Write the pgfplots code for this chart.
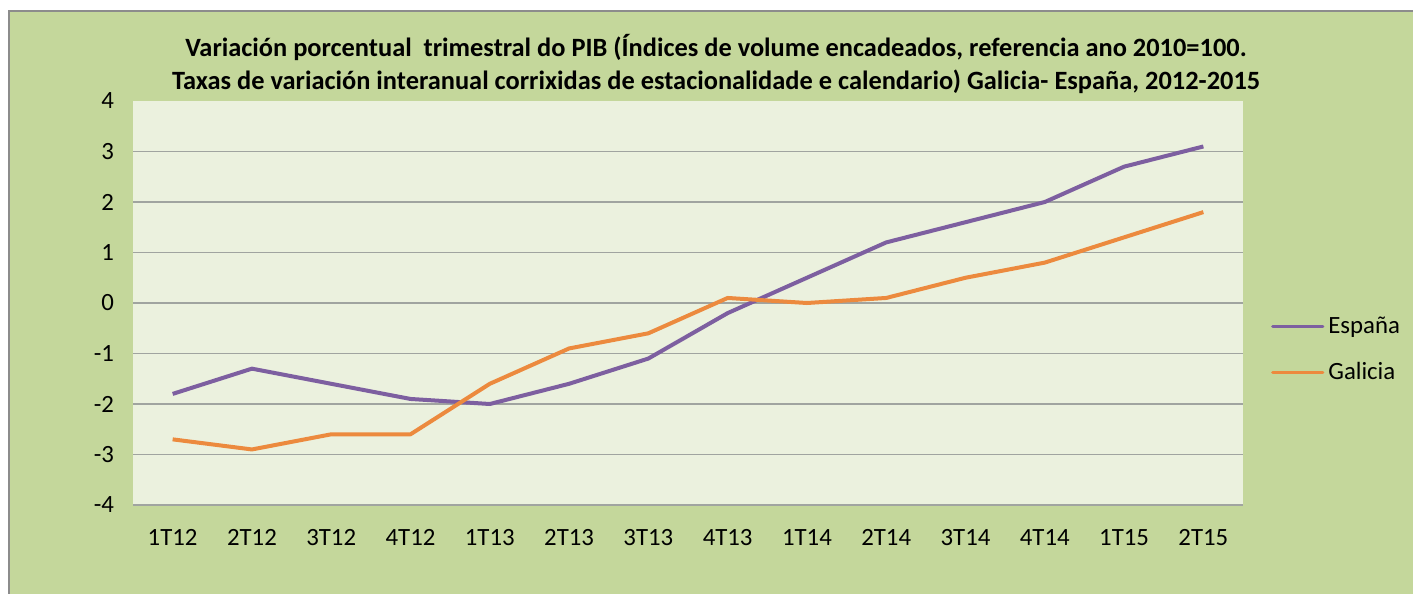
\documentclass[border=0pt]{standalone}
\usepackage{pgfplots}
\pgfplotsset{compat=1.18}
\usepackage{fontspec}
\setmainfont{Carlito}
\definecolor{outerbg}{HTML}{C4D79B}
\definecolor{innerbg}{HTML}{EBF1DE}
\definecolor{espana}{HTML}{7D5FA0}
\definecolor{galicia}{HTML}{EC8A3E}
\definecolor{gridc}{HTML}{A0A4A0}
\begin{document}
\begin{tikzpicture}
\path[use as bounding box, fill=white] (0pt,0pt) rectangle (706.5pt,297pt);
\fill[outerbg] (5pt,0pt) rectangle (706.5pt,291.5pt);
\draw[gray!90, line width=1pt] (4.5pt,0pt) -- (4.5pt,291.5pt) -- (706.5pt,291.5pt);
\node[align=center, font=\fontsize{13.2}{16.5}\selectfont\bfseries] at (358pt,265.25pt)
 {Variación porcentual\ \ trimestral do PIB (Índices de volume encadeados, referencia ano 2010=100.\\
  Taxas de variación interanual corrixidas de estacionalidade e calendario) Galicia- España, 2012-2015};
\begin{axis}[
  at={(66.5pt,44.5pt)}, anchor=south west,
  width=555pt, height=202pt, scale only axis,
  xmin=-0.5, xmax=13.5, ymin=-4, ymax=4,
  ytick={-4,-3,...,3},
  extra y ticks={4}, extra y tick style={grid=none},
  xtick={0,...,13},
  xticklabels={1T12,2T12,3T12,4T12,1T13,2T13,3T13,4T13,1T14,2T14,3T14,4T14,1T15,2T15},
  axis background/.style={fill=innerbg},
  axis x line=bottom, axis y line=left,
  x axis line style={draw=gridc, line width=1pt, -},
  y axis line style={draw=none},
  ymajorgrids, grid style={gridc, line width=0.6pt},
  major tick length=0pt,
  tick label style={font=\fontsize{12.4}{14}\selectfont},
  /pgf/number format/assume math mode=true,
  yticklabel style={xshift=-6pt},
  xticklabel style={yshift=-8.5pt},
  legend style={at={(1.025,0.385)}, anchor=west, draw=none, fill=none,
    inner sep=0pt, row sep=9pt, font=\fontsize{12.4}{14}\selectfont,
    legend cell align=left},
  legend image code/.code={\draw[#1, line width=1.6pt, line cap=round] (0pt,0pt) -- (25pt,0pt);},
  clip=false,
]
\addplot[espana, line width=2pt, line join=round] coordinates {
(0,-1.8) (1,-1.3) (2,-1.6) (3,-1.9) (4,-2.0) (5,-1.6) (6,-1.1) (7,-0.2)
(8,0.5) (9,1.2) (10,1.6) (11,2.0) (12,2.7) (13,3.1)};
\addlegendentry{España}
\addplot[galicia, line width=2pt, line join=round] coordinates {
(0,-2.7) (1,-2.9) (2,-2.6) (3,-2.6) (4,-1.6) (5,-0.9) (6,-0.6) (7,0.1)
(8,0.0) (9,0.1) (10,0.5) (11,0.8) (12,1.3) (13,1.8)};
\addlegendentry{Galicia}
\end{axis}
\end{tikzpicture}
\end{document}
